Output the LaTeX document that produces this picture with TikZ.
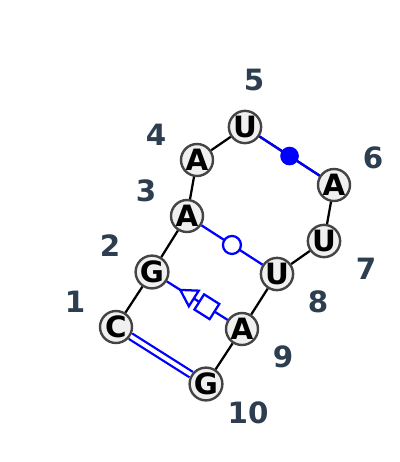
\documentclass[tikz,border=0pt]{standalone}
\usepackage{fontspec}
\setmainfont{DejaVu Sans}
\usetikzlibrary{shapes.geometric}
\definecolor{numcol}{HTML}{2C3E50}
\definecolor{basefill}{HTML}{F0F0F0}
\definecolor{baseline}{HTML}{444444}
\tikzset{
  base/.style={circle, draw=baseline, fill=basefill, line width=1.8pt, minimum size=24pt, inner sep=0pt, font=\fontsize{22}{26}\selectfont\bfseries},
  num/.style={text=numcol, inner sep=0pt, font=\fontsize{22}{26}\selectfont\bfseries},
  backbone/.style={line width=1.7pt, black},
  pair/.style={line width=1.7pt, blue}
}
\begin{document}
\begin{tikzpicture}[x=0.75pt,y=-0.75pt]
        % frame
        \useasboundingbox (0,0) rectangle (400,462);
        % bases
        \node[base] (c1) at (116,327) {C};
        \node[base] (g2) at (152,272) {G};
        \node[base] (a3) at (187,216) {A};
        \node[base] (a4) at (197,160) {A};
        \node[base] (u5) at (245,127) {U};
        \node[base] (a6) at (334,185) {A};
        \node[base] (u7) at (324,241) {U};
        \node[base] (u8) at (277,274) {U};
        \node[base] (a9) at (242,329) {A};
        \node[base] (g10) at (206,384) {G};
        % numbers
        \node[num] (l1) at (75,302) {1};
        \node[num] (l2) at (110,246) {2};
        \node[num] (l3) at (146,191) {3};
        \node[num] (l4) at (156,135) {4};
        \node[num] (l5) at (254,80) {5};
        \node[num] (l6) at (373,158) {6};
        \node[num] (l7) at (366,269) {7};
        \node[num] (l8) at (318,302) {8};
        \node[num] (l9) at (283,357) {9};
        \node[num] (l10) at (248,413) {10};
        % backbone
        \draw[backbone] (c1) -- (g2) -- (a3) -- (a4) -- (u5) -- (a6) -- (u7) -- (u8) -- (a9) -- (g10);
        % pairs
        \draw[pair, double=white, double distance=3pt] (c1) -- (g10);
        \draw[pair] (a3) -- node[pos=0.5, circle, draw=blue, line width=1.7pt, fill=white, minimum size=13.5pt, inner sep=0pt] (o38) {} (u8);
        \draw[pair] (u5) -- node[pos=0.5, circle, fill=blue, minimum size=14pt, inner sep=0pt] (o56) {} (a6);
        \draw[pair] (g2) -- node[pos=0.37, sloped, regular polygon, regular polygon sides=3, shape border rotate=90, draw=blue, line width=1.7pt, fill=white, minimum size=16pt, inner sep=0pt] (t29) {} node[pos=0.66, sloped, rectangle, draw=blue, line width=1.7pt, fill=white, minimum size=13.5pt, inner sep=0pt] (s29) {} (a9);
    \end{tikzpicture}
\end{document}
